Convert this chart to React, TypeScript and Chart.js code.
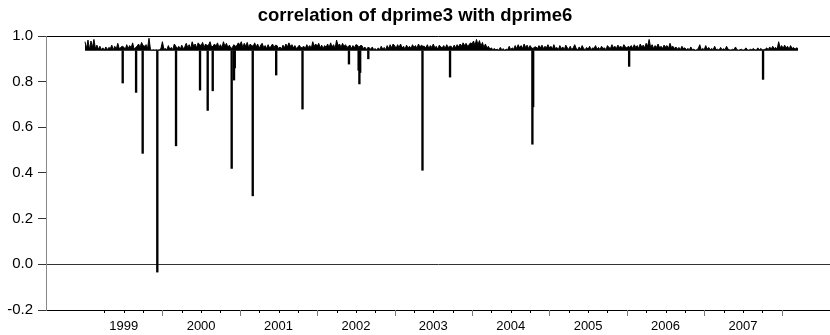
import React, { useEffect, useRef } from "react";
import { Chart, registerables } from "chart.js";

Chart.register(...registerables);

const TITLE = "correlation of dprime3 with dprime6";
const FIRST_YEAR = 1999;
const WEEKS_PER_YEAR = 52;
const BASELINE = 0.935;

// weekly highs of the correlation band, one array per calendar year
const hi1999 = [
  0.975, 0.945, 0.982, 0.94, 0.978, 0.95, 0.985, 0.945, 0.96, 0.942,
  0.955, 0.94, 0.948, 0.938, 0.952, 0.94, 0.95, 0.945, 0.96, 0.94,
  0.955, 0.942, 0.968, 0.945, 0.95, 0.955, 0.952, 0.94, 0.962, 0.945,
  0.958, 0.948, 0.97, 0.942, 0.95, 0.955, 0.965, 0.95, 0.972, 0.958,
  0.955, 0.962, 0.945, 0.99, 0.94, 0.938, 0.94, 0.938, 0.94, 0.938,
  0.94, 0.945,
];
const hi2000 = [
  0.975, 0.942, 0.945, 0.94, 0.958, 0.942, 0.95, 0.94, 0.965, 0.955,
  0.945, 0.955, 0.942, 0.96, 0.945, 0.952, 0.968, 0.95, 0.962, 0.945,
  0.975, 0.955, 0.965, 0.948, 0.97, 0.962, 0.958, 0.972, 0.95, 0.965,
  0.958, 0.96, 0.975, 0.952, 0.955, 0.965, 0.955, 0.97, 0.95, 0.962,
  0.948, 0.975, 0.955, 0.968, 0.95, 0.96, 0.945, 0.95, 0.962, 0.955,
  0.958, 0.97,
];
const hi2001 = [
  0.962, 0.975, 0.95, 0.968, 0.955, 0.972, 0.948, 0.965, 0.958, 0.955,
  0.97, 0.952, 0.965, 0.945, 0.96, 0.968, 0.95, 0.958, 0.945, 0.962,
  0.948, 0.955, 0.965, 0.95, 0.96, 0.958, 0.945, 0.952, 0.942, 0.96,
  0.948, 0.965, 0.952, 0.97, 0.955, 0.962, 0.948, 0.958, 0.945, 0.952,
  0.96, 0.948, 0.95, 0.955, 0.945, 0.962, 0.95, 0.958, 0.945, 0.975,
  0.955, 0.965,
];
const hi2002 = [
  0.955, 0.968, 0.948, 0.96, 0.945, 0.958, 0.95, 0.965, 0.948, 0.97,
  0.952, 0.962, 0.945, 0.982, 0.958, 0.965, 0.95, 0.968, 0.955, 0.962,
  0.95, 0.955, 0.96, 0.945, 0.958, 0.948, 0.962, 0.96, 0.95, 0.958,
  0.958, 0.945, 0.952, 0.94, 0.95, 0.948, 0.942, 0.952, 0.94, 0.945,
  0.938, 0.948, 0.94, 0.955, 0.942, 0.95, 0.94, 0.958, 0.945, 0.962,
  0.948, 0.965,
];
const hi2003 = [
  0.958, 0.945, 0.962, 0.95, 0.965, 0.948, 0.955, 0.942, 0.96, 0.948,
  0.955, 0.945, 0.962, 0.95, 0.958, 0.945, 0.965, 0.952, 0.96, 0.955,
  0.955, 0.948, 0.962, 0.945, 0.958, 0.95, 0.965, 0.948, 0.955, 0.942,
  0.96, 0.952, 0.948, 0.958, 0.945, 0.962, 0.95, 0.955, 0.955, 0.945,
  0.96, 0.948, 0.962, 0.952, 0.965, 0.955, 0.97, 0.958, 0.968, 0.955,
  0.962, 0.97,
];
const hi2004 = [
  0.965, 0.978, 0.958, 0.985, 0.962, 0.98, 0.955, 0.972, 0.95, 0.965,
  0.948, 0.955, 0.942, 0.948, 0.94, 0.945, 0.94, 0.942, 0.938, 0.95,
  0.94, 0.944, 0.938, 0.942, 0.94, 0.955, 0.94, 0.948, 0.942, 0.958,
  0.945, 0.962, 0.948, 0.958, 0.945, 0.965, 0.95, 0.96, 0.945, 0.958,
  0.948, 0.945, 0.952, 0.952, 0.945, 0.958, 0.948, 0.96, 0.945, 0.955,
  0.948, 0.962,
];
const hi2005 = [
  0.948, 0.955, 0.942, 0.962, 0.945, 0.95, 0.94, 0.958, 0.945, 0.952,
  0.94, 0.96, 0.948, 0.942, 0.955, 0.94, 0.948, 0.962, 0.945, 0.94,
  0.952, 0.942, 0.958, 0.945, 0.94, 0.95, 0.942, 0.955, 0.94, 0.948,
  0.945, 0.958, 0.942, 0.95, 0.94, 0.955, 0.945, 0.948, 0.94, 0.958,
  0.95, 0.945, 0.962, 0.948, 0.955, 0.945, 0.96, 0.95, 0.955, 0.945,
  0.962, 0.952,
];
const hi2006 = [
  0.948, 0.955, 0.95, 0.958, 0.945, 0.962, 0.95, 0.958, 0.945, 0.965,
  0.952, 0.96, 0.948, 0.968, 0.955, 0.985, 0.95, 0.962, 0.945, 0.958,
  0.95, 0.965, 0.948, 0.955, 0.945, 0.96, 0.952, 0.958, 0.945, 0.968,
  0.95, 0.955, 0.945, 0.952, 0.942, 0.95, 0.94, 0.955, 0.945, 0.948,
  0.94, 0.945, 0.94, 0.952, 0.94, 0.942, 0.938, 0.94, 0.945, 0.962,
  0.94, 0.945,
];
const hi2007 = [
  0.94, 0.958, 0.942, 0.95, 0.94, 0.945, 0.94, 0.955, 0.94, 0.942,
  0.938, 0.95, 0.94, 0.944, 0.94, 0.955, 0.942, 0.94, 0.938, 0.942,
  0.94, 0.952, 0.94, 0.938, 0.94, 0.942, 0.938, 0.94, 0.948, 0.94,
  0.938, 0.942, 0.94, 0.945, 0.94, 0.938, 0.948, 0.94, 0.945, 0.94,
  0.94, 0.942, 0.948, 0.94, 0.952, 0.942, 0.955, 0.945, 0.95, 0.942,
  0.975, 0.948,
];
const hi2008 = [
  0.958, 0.945, 0.96, 0.948, 0.955, 0.942, 0.958, 0.945, 0.95, 0.942,
  0.948, 0.945,
];

const yearHighs = [hi1999, hi2000, hi2001, hi2002, hi2003, hi2004, hi2005, hi2006, hi2007, hi2008];

// one-day drops of the correlation (date as fractional year, lowest value)
const spikeDates = [
  1999.487, 1999.66, 1999.745, 1999.934, 2000.176, 2000.486, 2000.585, 2000.65,
  2000.895, 2000.925, 2000.935, 2001.167, 2001.47, 2001.81, 2002.41, 2002.535,
  2002.545, 2002.555, 2002.66, 2003.36, 2003.716, 2004.78, 2004.79, 2006.03, 2007.76,
];
const spikeLows = [
  0.794, 0.753, 0.486, -0.034, 0.519, 0.763, 0.674, 0.76,
  0.42, 0.807, 0.86, 0.3, 0.829, 0.68, 0.877, 0.85,
  0.79, 0.84, 0.9, 0.412, 0.82, 0.526, 0.69, 0.867, 0.81,
];

const yTickValues = [-0.2, 0, 0.2, 0.4, 0.6, 0.8, 1.0];
const xLabelYears = [1999, 2000, 2001, 2002, 2003, 2004, 2005, 2006, 2007];
const X_MIN = 1998.496;
const X_MAX = 2008.625;
const TICK_FIRST = 1999.25;
const TICK_LAST = 2008;

const bandPoints: { x: number; y: number }[] = [];
yearHighs.forEach((arr, k) => {
  arr.forEach((v, i) => {
    bandPoints.push({ x: FIRST_YEAR + k + i / WEEKS_PER_YEAR, y: v });
  });
});
const spikeBars = spikeDates.map((d, i) => ({ x: d, y: [spikeLows[i], BASELINE] }));

const FONT = "'Liberation Sans', Arial, Helvetica, sans-serif";

const tickMarksPlugin = {
  id: "quarterTickMarks",
  afterDraw(chart: any) {
    const xs = chart.scales.x;
    const ctx = chart.ctx;
    ctx.save();
    ctx.lineWidth = 1;
    xs.ticks.forEach((t: any) => {
      const isYear = Math.abs(t.value - Math.round(t.value)) < 1e-6;
      const px = Math.round(xs.getPixelForValue(t.value)) + 0.5;
      ctx.strokeStyle = isYear ? "#7a7a7a" : "#000";
      ctx.beginPath();
      ctx.moveTo(px, xs.top);
      ctx.lineTo(px, xs.top + (isYear ? 6 : 3));
      ctx.stroke();
    });
    ctx.restore();
  },
};

export default function App() {
  const ref = useRef<HTMLCanvasElement | null>(null);

  useEffect(() => {
    if (!ref.current) return;
    const chart = new Chart(ref.current, {
      type: "line",
      data: {
        datasets: [
          {
            type: "line",
            data: bandPoints,
            borderColor: "#000",
            backgroundColor: "#000",
            borderWidth: 1,
            pointRadius: 0,
            tension: 0,
            fill: { value: BASELINE },
            order: 2,
          },
          {
            type: "bar",
            data: spikeBars as any,
            backgroundColor: "#000",
            borderWidth: 0,
            barThickness: 1.7,
            grouped: false,
            order: 1,
          } as any,
        ],
      },
      plugins: [tickMarksPlugin],
      options: {
        animation: false,
        responsive: false,
        devicePixelRatio: 1,
        layout: { padding: { left: 0, right: 0, top: 0, bottom: 0 } },
        plugins: {
          legend: { display: false },
          tooltip: { enabled: false },
          title: {
            display: true,
            text: TITLE,
            color: "#000",
            font: { family: FONT, size: 18.5, weight: "bold", lineHeight: 1 },
            padding: { top: 7, bottom: 10.5 },
          },
        },
        scales: {
          x: {
            type: "linear",
            min: X_MIN,
            max: X_MAX,
            offset: false,
            afterBuildTicks: (scale: any) => {
              const ticks: { value: number }[] = [];
              for (let v = TICK_FIRST; v <= TICK_LAST + 1e-9; v += 0.25) ticks.push({ value: v });
              scale.ticks = ticks;
            },
            afterFit: (scale: any) => {
              scale.height = 25;
            },
            ticks: {
              autoSkip: false,
              maxRotation: 0,
              minRotation: 0,
              padding: 9,
              color: "#000",
              font: { family: FONT, size: 13 },
              callback: (value: any) => {
                const v = Number(value);
                const yr = xLabelYears.find((y) => Math.abs(y + 0.5 - v) < 1e-6);
                return yr !== undefined ? String(yr) : "";
              },
            },
            grid: { display: true, offset: false, drawOnChartArea: false, drawTicks: false },
            border: { display: true, color: "#000", width: 1 },
          },
          y: {
            type: "linear",
            min: -0.2,
            max: 1.0,
            afterBuildTicks: (scale: any) => {
              scale.ticks = yTickValues.map((v) => ({ value: v }));
            },
            afterFit: (scale: any) => {
              scale.width = 46;
            },
            ticks: {
              padding: 5,
              color: "#000",
              font: { family: FONT, size: 15 },
              callback: (value: any) => Number(value).toFixed(1),
            },
            grid: {
              display: true,
              drawOnChartArea: true,
              drawTicks: true,
              tickLength: 8,
              tickColor: "#333",
              color: (ctx: any) => {
                const v = ctx.tick ? ctx.tick.value : NaN;
                if (Math.abs(v) < 1e-9) return "#333";
                if (Math.abs(v - 1) < 1e-9) return "#000";
                if (Math.abs(v + 0.2) < 1e-9) return "#000";
                return "rgba(0,0,0,0)";
              },
              lineWidth: 1,
            },
            border: { display: true, color: "#888", width: 1 },
          },
        },
      },
    });
    return () => chart.destroy();
  }, []);

  return (
    <div style={{ position: "fixed", left: 0, top: 0, width: 830, height: 335, background: "#fff" }}>
      <canvas ref={ref} width={830} height={335} style={{ display: "block", width: 830, height: 335 }} />
    </div>
  );
}
